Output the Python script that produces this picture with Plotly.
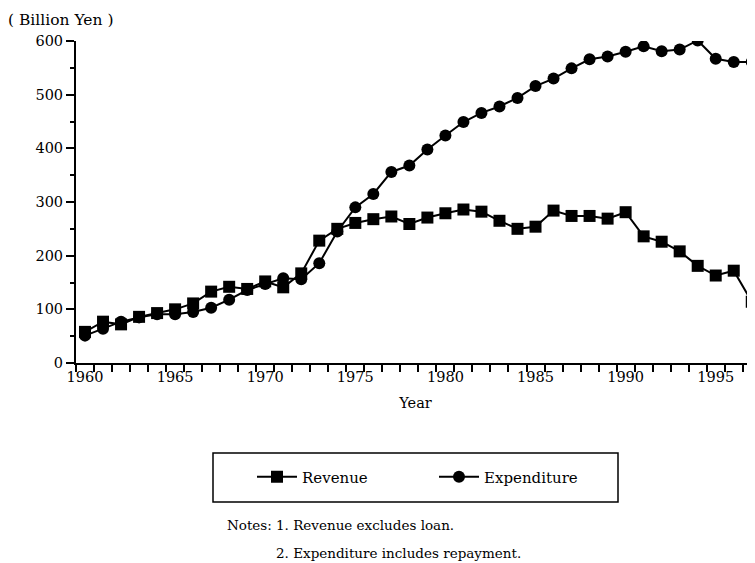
import plotly.graph_objects as go

years = list(range(1960, 1998))
revenue = [58, 77, 72, 86, 93, 100, 111, 133, 142, 138, 152, 141, 167, 228, 250, 261,
           268, 273, 259, 271, 279, 286, 282, 265, 250, 254, 284, 274, 274, 269, 281,
           236, 226, 208, 181, 163, 172, 114]
expenditure = [51, 64, 77, 85, 91, 91, 95, 103, 118, 136, 147, 158, 156, 186, 245, 290,
               315, 356, 368, 398, 424, 449, 466, 478, 494, 516, 530, 549, 566, 571, 580,
               590, 581, 584, 601, 567, 561, 561]
label_years = [1960, 1965, 1970, 1975, 1980, 1985, 1990, 1995]
y_ticks = [0, 100, 200, 300, 400, 500, 600]

# fiscal-year values are plotted at the middle of each year
xmid = [y + 0.5 for y in years]

FONT = "DejaVu Serif"

# the page body adds an 8px offset; the figure is sized so the visible window matches
PX0, PY0 = 76, 363          # plot-area origin in window pixels
PW, PH = 679, 322           # plot-area size


def px(x):
    return (x - PX0) / PW


def py(y):
    return (PY0 - y) / PH


fig = go.Figure()
fig.add_trace(go.Scatter(
    x=xmid, y=revenue, name="Revenue", mode="lines+markers",
    line=dict(color="black", width=2),
    marker=dict(symbol="square", size=12, color="black"),
))
fig.add_trace(go.Scatter(
    x=xmid, y=expenditure, name="Expenditure", mode="lines+markers",
    line=dict(color="black", width=2),
    marker=dict(symbol="circle", size=12, color="black"),
))

fig.update_layout(
    width=747, height=555,
    margin=dict(l=68, r=0, t=33, b=200),
    paper_bgcolor="white", plot_bgcolor="white",
    font=dict(family=FONT, size=14, color="black"),
    showlegend=True,
    legend=dict(
        orientation="h", x=px(252), xanchor="left", y=py(477), yanchor="middle",
        bgcolor="rgba(0,0,0,0)", borderwidth=0,
        font=dict(family=FONT, size=15, color="black"),
        entrywidth=127, itemwidth=40,
    ),
    xaxis=dict(
        range=[1960, 1997.68], showgrid=False, zeroline=False,
        showline=True, linecolor="black", linewidth=2,
        tickmode="array", tickvals=[y + 0.5 for y in label_years],
        ticktext=[str(y) for y in label_years],
        ticks="", ticklen=0,
        minor=dict(ticks="outside", tick0=1960, dtick=1, ticklen=7,
                   tickcolor="black", tickwidth=1.5),
        title=dict(text="Year", standoff=13, font=dict(family=FONT, size=14.5)),
        tickfont=dict(family=FONT, size=14.5),
    ),
    yaxis=dict(
        range=[0, 600], showgrid=False, zeroline=False,
        showline=True, linecolor="black", linewidth=2,
        tickmode="array", tickvals=y_ticks, ticks="outside", ticklen=8,
        tickcolor="black", tickwidth=1.5,
        minor=dict(ticks="outside", tick0=0, dtick=50, ticklen=4,
                   tickcolor="black", tickwidth=1.5),
        tickfont=dict(family=FONT, size=14.5),
    ),
    shapes=[dict(type="rect", xref="paper", yref="paper",
                 x0=px(213), x1=px(618), y0=py(502), y1=py(453),
                 line=dict(color="black", width=1.5))],
    annotations=[
        dict(text="( Billion Yen )", xref="paper", yref="paper", x=px(6), y=py(20),
             xanchor="left", yanchor="middle", showarrow=False,
             font=dict(family=FONT, size=15.5)),
        dict(text="Notes:", xref="paper", yref="paper", x=px(225),
             y=py(525), xanchor="left", yanchor="middle", showarrow=False,
             font=dict(family=FONT, size=13.5)),
        dict(text="1. Revenue excludes loan.", xref="paper", yref="paper",
             x=px(274), y=py(525), xanchor="left", yanchor="middle",
             showarrow=False, font=dict(family=FONT, size=13.5)),
        dict(text="2. Expenditure includes repayment.", xref="paper", yref="paper",
             x=px(274), y=py(553), xanchor="left", yanchor="middle",
             showarrow=False, font=dict(family=FONT, size=13.5)),
    ],
)

fig.write_html("out.html")
